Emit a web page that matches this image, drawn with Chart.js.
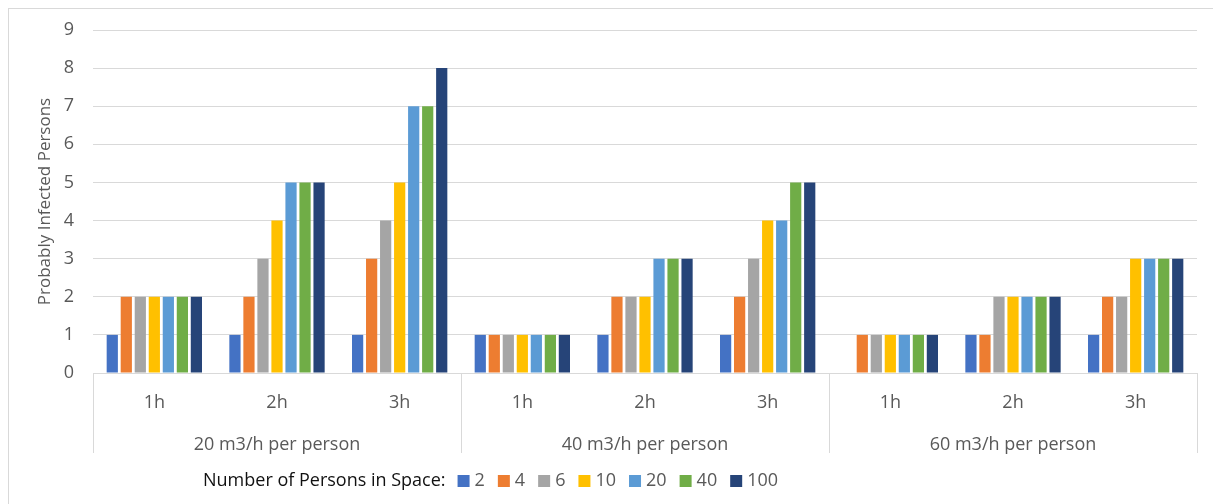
<!DOCTYPE html>
<html>
<head>
<meta charset="utf-8">
<script src="https://cdn.jsdelivr.net/npm/chart.js@4.4.1/dist/chart.umd.min.js"></script>
<style>
  html, body { margin: 0; padding: 0; background: #fff; }
  #wrap { width: 1213px; height: 504px; }
</style>
</head>
<body>
<div id="wrap"><canvas id="chart" width="1213" height="504"></canvas></div>
<script>
// categories on the x axis
const durations = ['1h', '2h', '3h', '1h', '2h', '3h', '1h', '2h', '3h'];
const groups = ['20 m3/h per person', '40 m3/h per person', '60 m3/h per person'];

// series: number of persons in space
const persons = ['2', '4', '6', '10', '20', '40', '100'];
const p2   = [1, 1, 1, 1, 1, 1, 0, 1, 1];
const p4   = [2, 2, 3, 1, 2, 2, 1, 1, 2];
const p6   = [2, 3, 4, 1, 2, 3, 1, 2, 2];
const p10  = [2, 4, 5, 1, 2, 4, 1, 2, 3];
const p20  = [2, 5, 7, 1, 3, 4, 1, 2, 3];
const p40  = [2, 5, 7, 1, 3, 5, 1, 2, 3];
const p100 = [2, 5, 8, 1, 3, 5, 1, 2, 3];
const seriesValues = [p2, p4, p6, p10, p20, p40, p100];

const colors = ['#4472C4', '#ED7D31', '#A5A5A5', '#FFC000', '#5B9BD5', '#70AD47', '#264478'];
const FONT = '"Open Sans", sans-serif';
const GREY = '#595959';
const LINE = '#d9d9d9';

// frame, group separators, group labels and the inline legend
const extras = {
  id: 'extras',
  beforeDraw(chart) {
    const ctx = chart.ctx;
    ctx.save();
    ctx.fillStyle = '#fff';
    ctx.fillRect(0, 0, chart.width, chart.height);
    ctx.strokeStyle = LINE;
    ctx.lineWidth = 1;
    ctx.strokeRect(8.5, 8.5, chart.width + 20, chart.height + 20);
    ctx.restore();
  },
  afterDraw(chart) {
    const ctx = chart.ctx;
    const xs = chart.scales.x;
    const half = (xs.getPixelForValue(1) - xs.getPixelForValue(0)) / 2;
    ctx.save();
    ctx.strokeStyle = LINE;
    ctx.lineWidth = 1;
    for (let g = 0; g <= groups.length; g++) {
      const x = Math.round(xs.getPixelForValue(g * 3) - half) + 0.5;
      ctx.beginPath();
      ctx.moveTo(x, xs.top);
      ctx.lineTo(x, xs.top + 80);
      ctx.stroke();
    }
    ctx.font = '18px ' + FONT;
    ctx.fillStyle = GREY;
    ctx.textAlign = 'center';
    ctx.textBaseline = 'middle';
    groups.forEach((g, i) => {
      ctx.fillText(g, xs.getPixelForValue(i * 3 + 1), xs.top + 72);
    });

    // legend
    const y = 481;
    let x = 203;
    ctx.textAlign = 'left';
    ctx.fillStyle = '#111';
    const title = 'Number of Persons in Space:';
    ctx.fillText(title, x, y);
    x += ctx.measureText(title).width + 12;
    chart.data.datasets.forEach(ds => {
      ctx.fillStyle = ds.backgroundColor;
      ctx.fillRect(x, y - 6, 12, 12);
      x += 17;
      ctx.fillStyle = GREY;
      ctx.fillText(ds.label, x, y);
      x += ctx.measureText(ds.label).width + 13;
    });
    ctx.restore();
  }
};

new Chart(document.getElementById('chart'), {
  type: 'bar',
  data: {
    labels: durations,
    datasets: persons.map((p, i) => ({
      label: p,
      data: seriesValues[i],
      backgroundColor: colors[i],
      barPercentage: 0.8,
      categoryPercentage: 0.8
    }))
  },
  options: {
    responsive: false,
    animation: false,
    devicePixelRatio: 1,
    layout: { padding: { left: 0, right: 16, top: 30, bottom: 0 } },
    plugins: {
      legend: { display: false },
      tooltip: { enabled: false }
    },
    scales: {
      x: {
        grid: { display: false },
        border: { display: true, color: LINE },
        ticks: { color: GREY, font: { family: FONT, size: 18 }, padding: 11 },
        afterFit(scale) { scale.height = 131; }
      },
      y: {
        min: 0,
        max: 9,
        ticks: { stepSize: 1, color: GREY, font: { family: FONT, size: 18 }, padding: 19 },
        grid: { color: LINE, drawTicks: false },
        border: { display: false },
        title: {
          display: true,
          text: 'Probably Infected Persons',
          color: GREY,
          font: { family: FONT, size: 17 },
          padding: { top: 35, bottom: 0 }
        },
        afterFit(scale) { scale.width = 93; }
      }
    }
  },
  plugins: [extras]
});
</script>
</body>
</html>
